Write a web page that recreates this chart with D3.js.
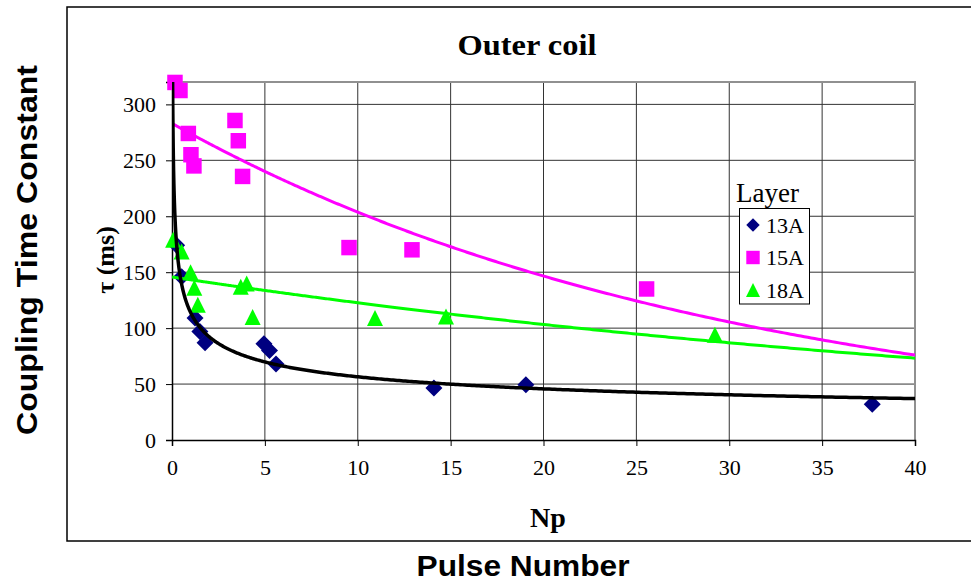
<!DOCTYPE html>
<html>
<head>
<meta charset="utf-8">
<script src="https://cdn.jsdelivr.net/npm/d3@7"></script>
<style>
  body { margin: 0; background: #fff; }
  svg { display: block; }
</style>
</head>
<body>
<div id="chart"></div>
<script>
// series data: [Np, tau (ms)]
var layers = ["13A", "15A", "18A"];

var data13A = [
    [0.25, 174], [0.52, 146], [1.24, 109], [1.5, 97], [1.78, 87],
    [4.95, 86], [5.25, 80], [5.6, 68], [14.1, 46.5], [19.05, 49.4], [37.7, 32]
];
var data15A = [
    [0.16, 319.6], [0.43, 312.4], [0.88, 274], [1.02, 255], [1.18, 245],
    [3.39, 285.6], [3.57, 267.5], [3.8, 235.6], [9.53, 172], [12.92, 170], [25.55, 135]
];
var data18A = [
    [0.06, 179], [0.52, 168.5], [1.0, 150], [1.2, 136], [1.39, 121],
    [3.7, 137], [4.02, 140], [4.34, 110], [10.93, 109], [14.75, 110.5], [29.23, 94]
];

// trendline coefficients
var trend13A = { type: "power", a: 114, b: -0.305 };
var trend15A = { type: "exp", a: 283, b: -0.0329 };
var trend18A = { type: "exp", a: 145.7, b: -0.01722 };

var xTicks = [0, 5, 10, 15, 20, 25, 30, 35, 40];
var yTicks = [0, 50, 100, 150, 200, 250, 300];

var width = 971, height = 584;
var plot = { left: 172, right: 915, top: 82, bottom: 440 };

var svg = d3.select("#chart").append("svg")
    .attr("width", width)
    .attr("height", height);

// outer chart box (runs off the right edge)
svg.append("rect")
    .attr("x", 67).attr("y", 7)
    .attr("width", 920).attr("height", 534)
    .attr("fill", "none")
    .attr("stroke", "#000")
    .attr("stroke-width", 1.5);

var x = d3.scaleLinear().domain([0, 40]).range([plot.left, plot.right]);
var y = d3.scaleLinear().domain([0, 320]).range([plot.bottom, plot.top]);

var serif = "'Liberation Serif', 'Times New Roman', serif";
var sans = "'Liberation Sans', Arial, sans-serif";

// gridlines
var grid = svg.append("g");
grid.selectAll(".vgrid")
    .data(xTicks.filter(function (d) { return d > 0 && d < 40; }))
    .enter().append("line")
    .attr("x1", function (d) { return x(d); })
    .attr("x2", function (d) { return x(d); })
    .attr("y1", plot.top).attr("y2", plot.bottom)
    .attr("stroke", "#333").attr("stroke-width", 1);
grid.selectAll(".hgrid")
    .data(yTicks.filter(function (d) { return d > 0; }))
    .enter().append("line")
    .attr("x1", plot.left).attr("x2", plot.right)
    .attr("y1", function (d) { return y(d); })
    .attr("y2", function (d) { return y(d); })
    .attr("stroke", "#333").attr("stroke-width", 1);

// plot area border (grey top / right)
svg.append("path")
    .attr("d", "M" + plot.left + "," + plot.top + "H" + plot.right + "V" + plot.bottom)
    .attr("fill", "none")
    .attr("stroke", "#909090")
    .attr("stroke-width", 2);

// axes
var xAxis = svg.append("g")
    .attr("transform", "translate(0," + plot.bottom + ")")
    .call(d3.axisBottom(x).tickValues(xTicks).tickSize(6).tickPadding(10));
var yAxis = svg.append("g")
    .attr("transform", "translate(" + plot.left + ",0)")
    .call(d3.axisLeft(y).tickValues(yTicks).tickSize(6).tickPadding(10));

[xAxis, yAxis].forEach(function (ax) {
    ax.attr("font-size", 22).attr("font-family", serif);
    ax.select(".domain").attr("stroke", "#000").attr("stroke-width", 1.5);
    ax.selectAll(".tick line").attr("stroke", "#000");
    ax.selectAll(".tick text")
        .attr("font-size", 22)
        .attr("fill", "#000");
});
xAxis.selectAll(".tick text").attr("dy", "0.85em");

// markers
var diamond = {
    draw: function (ctx, size) {
        var r = Math.sqrt(size) / 2;
        ctx.moveTo(0, -r); ctx.lineTo(r, 0); ctx.lineTo(0, r); ctx.lineTo(-r, 0); ctx.closePath();
    }
};
var square = {
    draw: function (ctx, size) {
        var r = Math.sqrt(size) / 2;
        ctx.rect(-r, -r, 2 * r, 2 * r);
    }
};
var triangle = {
    draw: function (ctx, size) {
        var r = Math.sqrt(size) / 2;
        ctx.moveTo(0, -r); ctx.lineTo(r, r); ctx.lineTo(-r, r); ctx.closePath();
    }
};

var seriesList = [
    { name: layers[0], values: data13A, trend: trend13A, shape: diamond, size: 289, color: "#000080", line: "#000", lw: 3.5 },
    { name: layers[1], values: data15A, trend: trend15A, shape: square, size: 240, color: "#ff00ff", line: "#ff00ff", lw: 3 },
    { name: layers[2], values: data18A, trend: trend18A, shape: triangle, size: 256, color: "#00ff00", line: "#00ff00", lw: 3 }
];

svg.append("clipPath").attr("id", "plotclip")
    .append("rect")
    .attr("x", plot.left).attr("y", plot.top)
    .attr("width", plot.right - plot.left).attr("height", plot.bottom - plot.top);

seriesList.forEach(function (s) {
    svg.append("g").selectAll("path")
        .data(s.values)
        .enter().append("path")
        .attr("d", d3.symbol().type(s.shape).size(s.size))
        .attr("transform", function (d) { return "translate(" + x(d[0]) + "," + y(d[1]) + ")"; })
        .attr("fill", s.color);
});

function trendValue(t, v) {
    if (t.type == "power") return t.a * Math.pow(v, t.b);
    return t.a * Math.exp(t.b * v);
}

var line = d3.line()
    .x(function (d) { return x(d[0]); })
    .y(function (d) { return y(d[1]); });

// trendlines, black one on top
[seriesList[2], seriesList[1], seriesList[0]].forEach(function (s) {
    var start = s.trend.type == "power" ? 0.03 : 0;
    var xs = d3.range(0, 401).map(function (i) { return start + (40 - start) * Math.pow(i / 400, 2); });
    var pts = xs.map(function (v) { return [v, trendValue(s.trend, v)]; });
    svg.append("path")
        .datum(pts)
        .attr("clip-path", "url(#plotclip)")
        .attr("d", line)
        .attr("fill", "none")
        .attr("stroke", s.line)
        .attr("stroke-width", s.lw);
});

// legend
var legend = svg.append("g");
legend.append("text")
    .attr("x", 736).attr("y", 202)
    .style("font-family", serif)
    .style("font-size", "27px")
    .text("Layer");
legend.append("rect")
    .attr("x", 739.5).attr("y", 208.5)
    .attr("width", 70).attr("height", 95.5)
    .attr("fill", "#fff")
    .attr("stroke", "#000").attr("stroke-width", 1);
seriesList.forEach(function (s, i) {
    var cy = 225 + i * 32.5;
    legend.append("path")
        .attr("d", d3.symbol().type(s.shape).size(s.shape === triangle ? 196 : 180))
        .attr("transform", "translate(753," + cy + ")")
        .attr("fill", s.color);
    legend.append("text")
        .attr("x", 766).attr("y", cy + 7.5)
        .style("font-family", serif)
        .style("font-size", "22px")
        .text(s.name);
});

// titles
svg.append("text")
    .attr("x", 527).attr("y", 55)
    .attr("text-anchor", "middle")
    .style("font-family", serif)
    .style("font-weight", "bold")
    .style("font-size", "30px")
    .attr("textLength", 139)
    .attr("lengthAdjust", "spacingAndGlyphs")
    .text("Outer coil");

svg.append("text")
    .attr("x", 548).attr("y", 527)
    .attr("text-anchor", "middle")
    .style("font-family", serif)
    .style("font-weight", "bold")
    .style("font-size", "28px")
    .text("Np");

svg.append("text")
    .attr("transform", "translate(114,260) rotate(-90)")
    .attr("text-anchor", "middle")
    .style("font-family", serif)
    .style("font-weight", "bold")
    .style("font-size", "26px")
    .text("τ (ms)");

svg.append("text")
    .attr("x", 523).attr("y", 576)
    .attr("text-anchor", "middle")
    .style("font-family", sans)
    .style("font-weight", "bold")
    .style("font-size", "29px")
    .attr("textLength", 213)
    .attr("lengthAdjust", "spacingAndGlyphs")
    .text("Pulse Number");

svg.append("text")
    .attr("transform", "translate(37,250) rotate(-90)")
    .attr("text-anchor", "middle")
    .style("font-family", sans)
    .style("font-weight", "bold")
    .style("font-size", "29px")
    .attr("textLength", 370)
    .attr("lengthAdjust", "spacingAndGlyphs")
    .text("Coupling Time Constant");
</script>
</body>
</html>
